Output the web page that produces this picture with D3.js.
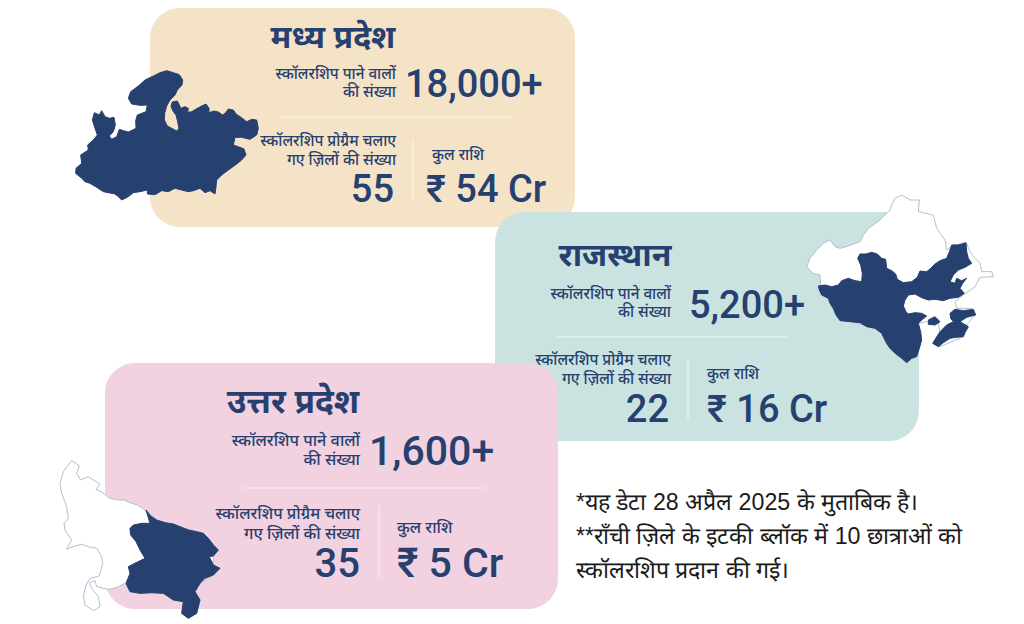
<!DOCTYPE html>
<html>
<head>
<meta charset="utf-8">
<script src="https://cdn.jsdelivr.net/npm/d3@7"></script>
<style>
  html, body { margin: 0; padding: 0; background: #fff; }
  svg { display: block; }
  text { font-family: "Noto Sans", "Noto Sans Devanagari", Roboto, sans-serif; }
</style>
</head>
<body>
<div id="chart"></div>
<script>
var width = 1024, height = 624
var navy = "#26406f"

// values
var states = ["मध्य प्रदेश", "राजस्थान", "उत्तर प्रदेश"]
var recipients = ["18,000+", "5,200+", "1,600+"]
var districts = ["55", "22", "35"]
var amounts = ["₹ 54 Cr", "₹ 16 Cr", "₹ 5 Cr"]
var cardColors = ["#f5e3c8", "#cae3e1", "#f2d1e0"]

var recipientLabel = ["स्कॉलरशिप पाने वालों", "की संख्या"]
var districtLabel = ["स्कॉलरशिप प्रोग्रैम चलाए", "गए ज़िलों की संख्या"]
var amountLabel = "कुल राशि"
var notes = ["*यह डेटा 28 अप्रैल 2025 के मुताबिक है।",
             "**राँची ज़िले के इटकी ब्लॉक में 10 छात्राओं को",
             "स्कॉलरशिप प्रदान की गई।"]

// state outlines, traced by hand in zoomed crop units
var mpShape = [[320,212],[340,218],[358,224],[368,240],[366,255],[352,270],[345,285],[330,300],[320,318],[314,340],[313,360],[322,378],[335,385],[350,393],[357,385],[353,365],[348,345],[338,332],[333,318],[337,306],[352,303],[358,315],[362,325],[375,320],[385,325],[383,337],[395,335],[412,325],[425,318],[438,312],[447,325],[447,338],[462,333],[475,336],[488,345],[497,338],[505,327],[520,330],[528,342],[543,352],[560,365],[575,358],[590,360],[595,385],[590,405],[570,418],[545,412],[525,412],[520,435],[535,440],[552,447],[558,465],[545,480],[530,492],[505,510],[485,525],[470,540],[468,560],[465,582],[450,572],[435,578],[420,565],[400,572],[385,575],[365,570],[345,565],[325,575],[305,572],[285,584],[262,582],[262,570],[240,575],[220,578],[205,590],[185,600],[175,590],[165,582],[130,575],[110,562],[90,550],[75,545],[65,535],[47,520],[48,505],[65,490],[62,465],[85,450],[83,435],[100,420],[112,405],[105,385],[97,360],[103,338],[118,345],[125,332],[135,350],[148,355],[162,352],[166,375],[160,395],[148,408],[155,418],[170,410],[178,388],[190,392],[205,396],[218,390],[228,385],[227,362],[232,345],[245,340],[258,335],[262,315],[240,316],[215,312],[205,295],[212,275],[235,258],[255,240],[280,228],[300,218]]
var rajOuter = [[365,15],[345,25],[335,45],[330,60],[300,90],[265,115],[250,135],[240,155],[205,168],[180,175],[165,170],[150,150],[130,160],[110,180],[90,205],[80,230],[100,250],[120,255],[122,285],[150,340],[175,385],[250,405],[300,420],[320,465],[380,515],[410,490],[420,450],[415,400],[440,395],[475,400],[480,425],[460,460],[480,470],[550,440],[560,405],[585,375],[575,355],[530,355],[525,335],[550,315],[585,290],[600,262],[640,260],[635,245],[605,245],[600,220],[585,205],[570,185],[560,160],[520,165],[500,180],[495,150],[470,115],[460,75],[415,65],[418,30],[390,30]]
var rajFill = [
  [[115,288],[135,285],[155,290],[175,285],[185,272],[205,265],[225,272],[245,275],[247,250],[242,225],[233,205],[240,192],[258,192],[275,187],[292,192],[305,205],[317,208],[320,235],[335,242],[347,252],[352,268],[370,278],[395,275],[412,262],[420,243],[440,245],[452,235],[465,222],[480,212],[500,205],[508,185],[515,165],[535,165],[558,158],[560,185],[565,205],[575,220],[555,232],[535,240],[520,255],[510,275],[525,280],[530,265],[545,272],[560,265],[548,280],[540,295],[553,310],[535,322],[510,325],[490,332],[465,328],[445,330],[425,323],[405,312],[385,315],[375,330],[370,348],[378,365],[385,372],[405,368],[425,370],[440,378],[425,390],[415,400],[422,425],[425,450],[418,475],[410,500],[395,505],[380,518],[365,505],[345,490],[330,475],[320,460],[305,430],[285,415],[260,410],[240,398],[210,395],[180,392],[168,375],[160,355],[150,340],[145,325],[125,315],[118,300]],
  [[510,370],[525,358],[550,362],[580,358],[587,375],[560,382],[540,395],[565,410],[555,428],[550,440],[528,442],[510,445],[490,458],[475,470],[458,460],[480,425],[500,405],[520,395],[512,385]],
  [[445,390],[465,380],[480,395],[465,405],[445,403]]
]
var upOuter = [[65,32],[88,47],[80,70],[92,90],[115,80],[150,103],[138,118],[158,128],[180,145],[205,150],[222,150],[240,158],[262,165],[285,180],[320,210],[390,230],[440,245],[475,265],[505,300],[490,320],[490,345],[510,355],[490,375],[450,400],[435,425],[450,450],[440,490],[415,505],[395,490],[400,455],[370,450],[340,430],[270,430],[240,425],[225,400],[205,410],[180,418],[160,415],[140,410],[135,392],[118,398],[125,415],[145,440],[150,470],[130,482],[105,465],[100,440],[108,405],[120,385],[148,378],[158,340],[155,320],[140,295],[115,290],[95,283],[75,288],[50,297],[65,270],[45,240],[42,220],[55,205],[50,170],[35,130],[30,100],[40,65]]
var upFill = [[288,180],[302,198],[320,210],[345,218],[370,222],[390,230],[415,240],[440,245],[460,250],[475,265],[490,285],[505,300],[490,318],[478,320],[490,345],[510,355],[490,375],[465,385],[450,400],[435,425],[450,450],[440,490],[415,505],[395,490],[400,455],[370,450],[340,430],[305,428],[270,430],[240,425],[228,400],[240,370],[235,350],[258,338],[285,325],[270,300],[258,275],[242,255],[240,235],[250,225],[275,220],[300,220]]

var svg = d3.select("#chart").append("svg").attr("width", width).attr("height", height)

// card boxes and text offsets, relative to the first card
var boxes = [
  {x: 150, y: 8, w: 425, h: 219, r: 30, dx: 0, dy: 0, title: 0, titleSize: 32, val: 0, valY: 97, lab: 0, labSize: 15.3, gap: 18, valSize: 38, div: 117, divEnd: 512, low: 0, numX: 394, num: 202, numSize: 38, labAmt: 0, amt: 0, amtSize: 38, vx: 413, vb: 200},
  {x: 495, y: 212, w: 424, h: 229, r: 30, dx: 275, dy: 218, title: 7, titleSize: 32, val: 9, valY: 100, lab: 2, labSize: 15.3, gap: 18, valSize: 38, div: 119, divEnd: 512, low: 1, numX: 394, num: 203.5, numSize: 38, labAmt: 0, amt: 6, amtSize: 38, vx: 413, vb: 202},
  {x: 105, y: 363, w: 453, h: 246, r: 30, dx: -36, dy: 365, title: -4, titleSize: 33.5, val: 0, valY: 100, lab: 2, labSize: 16.3, gap: 19, valSize: 41, div: 123, divEnd: 520, low: 8, numX: 396, num: 212, numSize: 40, labAmt: 1, amt: 7, amtSize: 41, vx: 415, vb: 213}
]

// crop units to page pixels: crop scale is 3x, each crop has its own corner
var shapeLine = (x0, y0) => d3.line()
  .x(d => d3.scaleLinear().domain([0, 3]).range([x0, x0 + 1])(d[0]))
  .y(d => d3.scaleLinear().domain([0, 3]).range([y0, y0 + 1])(d[1]))
  .curve(d3.curveLinearClosed)

var drawCard = (i) => {
  var b = boxes[i]
  svg.append("rect").attr("x", b.x).attr("y", b.y).attr("width", b.w).attr("height", b.h)
    .attr("rx", b.r).attr("fill", cardColors[i])
}

var drawOuter = (pts, x0, y0) => {
  svg.append("path").attr("d", shapeLine(x0, y0)(pts))
    .attr("fill", "#fff").attr("stroke", "#b3bfd0").attr("stroke-width", 1).attr("stroke-linejoin", "round")
}
var drawFill = (pts, x0, y0) => {
  svg.append("path").attr("d", shapeLine(x0, y0)(pts)).attr("fill", navy)
    .attr("stroke", navy).attr("stroke-width", 1).attr("stroke-linejoin", "round")
}

var drawText = (i) => {
  var b = boxes[i]
  var g = svg.append("g").attr("transform", `translate(${b.dx},${b.dy})`).attr("fill", navy)

  g.append("text").attr("x", 333 + b.title).attr("y", 48).attr("text-anchor", "middle")
    .attr("font-size", b.titleSize).attr("font-weight", 700).text(states[i])

  g.selectAll(".rl").data(recipientLabel).enter().append("text")
    .attr("x", 396).attr("y", (d, k) => 79 + b.lab + k * b.gap).attr("text-anchor", "end")
    .attr("font-size", b.labSize).attr("font-weight", 500).text(d => d)
  g.append("text").attr("x", 405 + b.val).attr("y", b.valY).attr("font-size", b.valSize)
    .attr("font-weight", 500).style("font-family", "Roboto").text(recipients[i])

  g.append("line").attr("x1", 280).attr("x2", b.divEnd).attr("y1", b.div).attr("y2", b.div)
    .attr("stroke", "#fff").attr("stroke-opacity", 0.7)

  g.selectAll(".dl").data(districtLabel).enter().append("text")
    .attr("x", 396).attr("y", (d, k) => 146 + b.low + k * (b.gap + 1)).attr("text-anchor", "end")
    .attr("font-size", b.labSize).attr("font-weight", 500).text(d => d)
  g.append("text").attr("x", b.numX).attr("y", b.num).attr("text-anchor", "end").attr("font-size", b.numSize)
    .attr("font-weight", 500).style("font-family", "Roboto").text(districts[i])

  g.append("line").attr("x1", b.vx).attr("x2", b.vx).attr("y1", 140).attr("y2", b.vb)
    .attr("stroke", "#fff").attr("stroke-opacity", 0.7)

  g.append("text").attr("x", 432 + b.labAmt).attr("y", 160 + b.low).attr("font-size", b.labSize)
    .attr("font-weight", 500).text(amountLabel)
  g.append("text").attr("x", 426 + b.amt).attr("y", b.num).attr("font-size", b.amtSize)
    .attr("font-weight", 500).style("font-family", "Roboto").text(amounts[i])
}

// first card
drawCard(0)
drawFill(mpShape, 60, 0)
drawText(0)
// second card, its map sits over the corner
drawCard(1)
drawOuter(rajOuter, 780, 190)
rajFill.forEach(p => drawFill(p, 780, 190))
drawText(1)
// third card on top of the second
drawCard(2)
drawOuter(upOuter, 50, 450)
drawFill(upFill, 50, 450)
drawText(2)

svg.selectAll(".note").data(notes).enter().append("text")
  .attr("x", 576).attr("y", (d, i) => 510 + i * 34)
  .attr("font-size", 23.2).attr("fill", "#1a1a1a")
  .style("font-family", "'Liberation Sans', sans-serif").text(d => d)
</script>
</body>
</html>
